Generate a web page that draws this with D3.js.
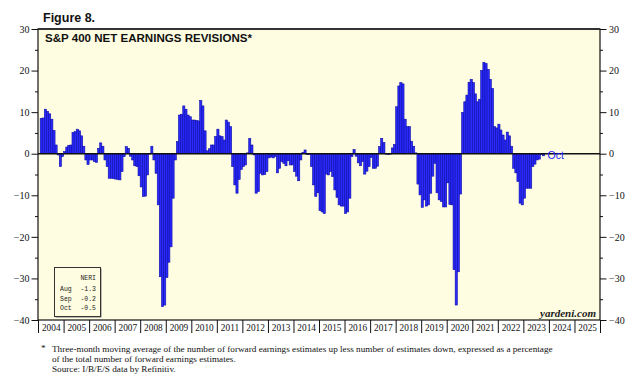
<!DOCTYPE html>
<html>
<head>
<meta charset="utf-8">
<script src="https://cdn.jsdelivr.net/npm/d3@7"></script>
<style>
  body { margin: 0; background: #fff; }
  svg { display: block; }
</style>
</head>
<body>
<div id="chart"></div>
<script>
// S&P 400 net earnings revisions (NERI), monthly, 3-mo avg, %
// first value is Feb 2004, last is Oct 2023
const startMonth = new Date(2004, 1, 1)
const y2004 = [8.5, 8.6, 10.7, 10.2, 9.6, 8.3, 5.6, 2.1, -0.3, -3.1, -0.7]
const y2005 = [0.5, 1.6, 2.0, 2.1, 5.1, 5.3, 5.9, 5.5, 4.3, 1.8, -1.5, -2.6]
const y2006 = [-1.5, -1.5, -1.9, -2.1, 1.3, 2.6, 1.8, -1.5, -3.1, -5.9, -5.9, -6.0]
const y2007 = [-6.1, -6.2, -6.3, -4.3, -0.7, 1.7, 1.3, -0.6, -1.5, -2.9, -3.1, -5.3]
const y2008 = [-8.0, -10.3, -10.2, -5.1, 0.1, 1.8, -1.5, -4.7, -12.3, -29.6, -36.8, -36.4]
const y2009 = [-29.8, -26.1, -22.4, -10.7, -1.5, 2.9, 9.3, 9.5, 11.5, 10.7, 9.3, 8.9]
const y2010 = [8.1, 8.1, 8.0, 7.9, 12.8, 11.5, 5.5, 0.7, 1.2, 2.1, 2.1, 4.1]
const y2011 = [5.9, 4.3, 4.1, 3.3, 8.1, 7.6, 6.5, -3.1, -7.5, -9.5, -6.2, -3.8]
const y2012 = [-3.1, -2.7, 0.2, 3.7, 2.1, -0.3, -9.5, -9.1, -4.7, -5.1, -5.0, -4.3]
const y2013 = [-1.0, -0.8, -1.0, -0.7, -4.6, -3.5, -1.9, -2.3, -2.9, -1.7, -2.7, -2.7]
const y2014 = [-4.3, -5.4, -6.5, -1.5, 0.3, 0.9, -0.2, -0.1, -3.1, -7.5, -10.3, -9.4]
const y2015 = [-13.7, -14.0, -14.4, -4.9, -5.1, -4.3, -5.5, -8.7, -10.5, -12.3, -12.6, -12.6]
const y2016 = [-14.4, -14.0, -10.7, -0.7, 1.0, -0.6, -2.2, -2.9, -1.9, -4.9, -4.2, -3.1]
const y2017 = [-0.9, -3.5, -3.5, -3.0, 1.7, 3.7, 2.7, 0.1, 0.0, 0.1, 1.4, 2.2]
const y2018 = [11.3, 16.3, 17.1, 16.8, 8.3, 6.5, 6.5, 3.0, 1.8, 0.2, -7.3, -9.9]
const y2019 = [-12.9, -11.1, -12.6, -12.3, -9.5, -5.4, -2.3, -9.4, -11.1, -11.5, -12.8, -12.8]
const y2020 = [-7.0, -12.2, -12.3, -27.9, -36.4, -28.4, -9.7, 9.9, 12.5, 14.1, 17.2, 17.9]
const y2021 = [17.1, 14.4, 12.5, 13.1, 20.0, 22.0, 21.7, 20.3, 17.9, 15.7, 6.5, 6.2]
const y2022 = [7.1, 5.7, 4.5, 3.3, 5.2, 4.3, 1.8, -3.5, -4.6, -6.7, -11.9, -12.3]
const y2023 = [-10.7, -8.3, -8.3, -8.3, -3.1, -2.5, -1.5, -1.3, -0.2, -0.5]

const yearLabels = d3.range(2004, 2026).map(String)
const majorTicks = [-40, -30, -20, -10, 0, 10, 20, 30]
const minorTicks = [-35, -25, -15, -5, 5, 15, 25]
const legendRows = [['Aug', '-1.3'], ['Sep', '-0.2'], ['Oct', '-0.5']]
const footnote = [
  'Three-month moving average of the number of forward earnings estimates up less number of estimates down, expressed as a percentage',
  'of the total number of forward earnings estimates.',
  'Source: I/B/E/S data by Refinitiv.'
]

// chart constants
const width = 640
const height = 379
const plot = { left: 38, right: 600, top: 29, bottom: 320 }
const bg = '#fffde1'
const barFill = '#2a2aff'
const barStroke = '#0c0ca6'
const serif = '"Liberation Serif", "Times New Roman", serif'
const sans = '"Liberation Sans", Arial, sans-serif'
const mono = '"Liberation Mono", "Courier New", monospace'

const values = [].concat(y2004, y2005, y2006, y2007, y2008, y2009, y2010, y2011,
  y2012, y2013, y2014, y2015, y2016, y2017, y2018, y2019, y2020, y2021, y2022, y2023)
const data = values.map((v, i) => ({ date: d3.timeMonth.offset(startMonth, i), value: v }))

const svg = d3.select('#chart').append('svg')
  .attr('width', width)
  .attr('height', height)

const x = d3.scaleTime()
  .domain([new Date(2004, 0, 1), new Date(2026, 0, 1)])
  .range([plot.left, plot.right])

const y = d3.scaleLinear()
  .domain([-40, 30])
  .range([plot.bottom, plot.top])

// plot background
svg.append('rect')
  .attr('x', plot.left).attr('y', plot.top)
  .attr('width', plot.right - plot.left)
  .attr('height', plot.bottom - plot.top)
  .attr('fill', bg)

// bars
svg.append('g')
  .selectAll('rect')
  .data(data)
  .join('rect')
  .attr('x', d => x(d.date))
  .attr('width', d => x(d3.timeMonth.offset(d.date, 1)) - x(d.date))
  .attr('y', d => y(Math.max(0, d.value)))
  .attr('height', d => Math.max(0.8, Math.abs(y(d.value) - y(0))))
  .attr('fill', barFill)
  .attr('stroke', barStroke)
  .attr('stroke-width', 0.6)

// zero line
svg.append('line')
  .attr('x1', plot.left).attr('x2', plot.right)
  .attr('y1', y(0)).attr('y2', y(0))
  .attr('stroke', '#111')
  .attr('stroke-width', 1.4)

// last value label
const last = data[data.length - 1]
svg.append('text')
  .attr('x', x(d3.timeMonth.offset(last.date, 1)) + 3)
  .attr('y', y(0) + 5.5)
  .attr('font-family', sans)
  .attr('font-size', 10.5)
  .attr('fill', '#1c1cff')
  .text('Oct')

// frame
svg.append('rect')
  .attr('x', plot.left).attr('y', plot.top)
  .attr('width', plot.right - plot.left)
  .attr('height', plot.bottom - plot.top)
  .attr('fill', 'none')
  .attr('stroke', '#111')
  .attr('stroke-width', 1.2)
svg.append('line')
  .attr('x1', plot.left).attr('x2', plot.right)
  .attr('y1', plot.top).attr('y2', plot.top)
  .attr('stroke', '#333')
  .attr('stroke-width', 2.2)

// y axes, left and right
function styleAxis(g) {
  g.select('.domain').remove()
  g.selectAll('line').attr('stroke', '#111')
  g.selectAll('text')
    .attr('font-family', serif)
    .attr('font-size', 10)
    .attr('fill', '#111')
}
svg.append('g')
  .attr('transform', `translate(${plot.left},0)`)
  .call(d3.axisLeft(y).tickValues(majorTicks).tickSize(6.5).tickPadding(2))
  .call(styleAxis)
svg.append('g')
  .attr('transform', `translate(${plot.left},0)`)
  .call(d3.axisLeft(y).tickValues(minorTicks).tickSize(3).tickFormat(''))
  .call(styleAxis)
svg.append('g')
  .attr('transform', `translate(${plot.right},0)`)
  .call(d3.axisRight(y).tickValues(majorTicks).tickSize(6.5).tickPadding(2.5))
  .call(styleAxis)
svg.append('g')
  .attr('transform', `translate(${plot.right},0)`)
  .call(d3.axisRight(y).tickValues(minorTicks).tickSize(3).tickFormat(''))
  .call(styleAxis)

// x axis: year boundary ticks + centred year labels
svg.append('g')
  .attr('transform', `translate(0,${plot.bottom})`)
  .call(d3.axisBottom(x).ticks(d3.timeYear.every(1)).tickSize(13).tickFormat(''))
  .call(styleAxis)
svg.append('g')
  .attr('transform', `translate(0,${plot.bottom})`)
  .call(d3.axisBottom(x)
    .tickValues(yearLabels.map(s => new Date(+s, 6, 1)))
    .tickSize(0).tickPadding(4)
    .tickFormat(d3.timeFormat('%Y')))
  .call(styleAxis)
  .call(g => g.selectAll('text').attr('font-size', 9.3))

// titles
svg.append('text')
  .attr('x', 43).attr('y', 22)
  .attr('font-family', sans)
  .attr('font-weight', 'bold')
  .attr('font-size', 12.5)
  .attr('fill', '#111')
  .text('Figure 8.')
svg.append('text')
  .attr('x', 45).attr('y', 42)
  .attr('font-family', sans)
  .attr('font-weight', 'bold')
  .attr('font-size', 11.7)
  .attr('textLength', 207)
  .attr('lengthAdjust', 'spacingAndGlyphs')
  .attr('fill', '#111')
  .text('S&P 400 NET EARNINGS REVISIONS*')

// legend box
const lg = svg.append('g')
lg.append('rect')
  .attr('x', 55.5).attr('y', 268.5).attr('width', 46).attr('height', 49)
  .attr('fill', '#777')
lg.append('rect')
  .attr('x', 54.5).attr('y', 267.5).attr('width', 46).attr('height', 49)
  .attr('fill', bg)
  .attr('stroke', '#333')
  .attr('stroke-width', 1)
lg.append('text')
  .attr('x', 96).attr('y', 280)
  .attr('text-anchor', 'end')
  .attr('font-family', mono)
  .attr('font-size', 6.5)
  .attr('fill', '#222')
  .text('NERI')
lg.selectAll('.row')
  .data(legendRows)
  .join('g')
  .attr('class', 'row')
  .each(function (d, i) {
    const g = d3.select(this)
    g.append('text')
      .attr('x', 60).attr('y', 291 + i * 9.5)
      .attr('font-family', mono).attr('font-size', 6.5).attr('fill', '#222')
      .text(d[0])
    g.append('text')
      .attr('x', 96).attr('y', 291 + i * 9.5)
      .attr('text-anchor', 'end')
      .attr('font-family', mono).attr('font-size', 6.5).attr('fill', '#222')
      .text(d[1])
  })

// source mark
svg.append('text')
  .attr('x', 596).attr('y', 317)
  .attr('text-anchor', 'end')
  .attr('font-family', serif)
  .attr('font-style', 'italic')
  .attr('font-weight', 'bold')
  .attr('font-size', 11)
  .attr('fill', '#222')
  .text('yardeni.com')

// footnote
svg.append('text')
  .attr('x', 41).attr('y', 351)
  .attr('font-family', serif).attr('font-size', 9.2).attr('fill', '#111')
  .text('*')
svg.append('g')
  .selectAll('text')
  .data(footnote)
  .join('text')
  .attr('x', 52)
  .attr('y', (d, i) => 352 + i * 10)
  .attr('font-family', serif)
  .attr('font-size', 9.2)
  .attr('fill', '#111')
  .text(d => d)
</script>
</body>
</html>
